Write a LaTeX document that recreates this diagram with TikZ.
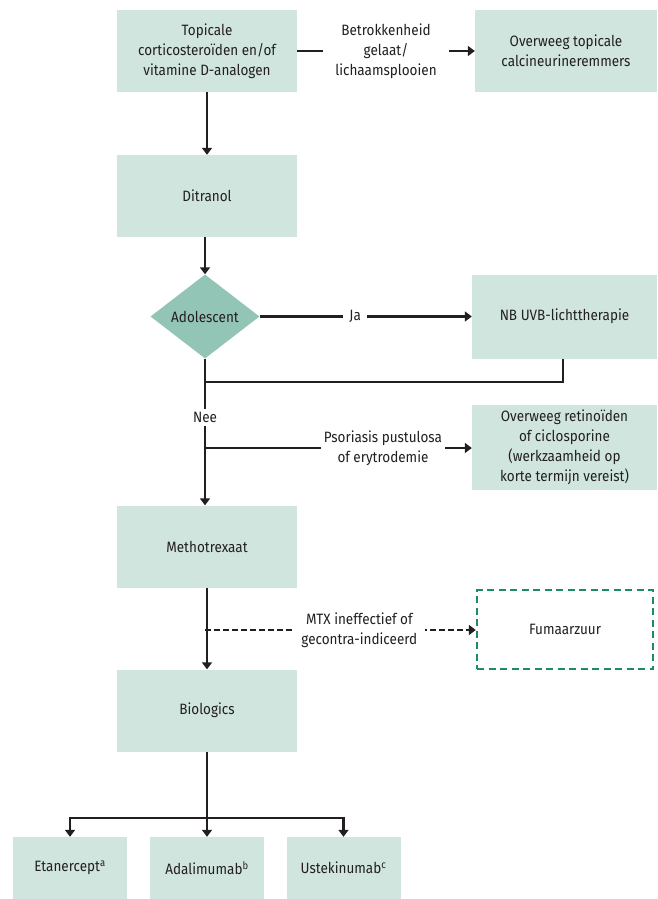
\documentclass[tikz,border=0pt]{standalone}
\usepackage{fontspec}
\setmainfont{Fira Sans}[FakeStretch=0.9]
\usetikzlibrary{shapes.geometric, arrows.meta, positioning, calc}
\definecolor{boxgreen}{HTML}{CFE5DD}
\definecolor{diagreen}{HTML}{93C5B7}
\definecolor{dashgreen}{HTML}{1F8A68}
\definecolor{inkgray}{HTML}{231F20}

\begin{document}
\begin{tikzpicture}[
    x=1pt, y=-1pt,
    font=\fontsize{15}{20}\selectfont,
    treatment/.style={
        rectangle, fill=boxgreen, text=inkgray,
        minimum width=180pt, minimum height=82pt, align=center,
        inner sep=4pt
    },
    option/.style={
        treatment, minimum width=114pt, minimum height=62pt
    },
    decision/.style={
        diamond, fill=diagreen, text=inkgray,
        minimum width=109pt, minimum height=84pt, inner sep=0pt, align=center
    },
    dashbox/.style={
        rectangle, draw=dashgreen, line width=2.4pt, dash pattern=on 7pt off 4.5pt,
        text=inkgray, minimum width=176pt, minimum height=79pt, align=center
    },
    line/.style={draw=inkgray, line width=2.2pt},
    arrow/.style={line, -{Triangle[length=7pt, width=10pt]}},
    dasharrow/.style={arrow, dash pattern=on 6pt off 3pt},
    cond/.style={fill=white, text=inkgray, align=center, inner sep=3pt}
]
\useasboundingbox (0,0) rectangle (657,899);

% ---------------------------------------------------------------------
% 1. MAIN COLUMN
% ---------------------------------------------------------------------
\node[treatment] (Topical) at (207, 51) {Topicale\\corticosteroïden en/of\\vitamine D-analogen};
\node[treatment] (Ditranol) at (207, 196) {Ditranol};
\node[decision] (Adolescent) at (205, 316.5) {Adolescent};
\node[treatment] (Metho) at (207, 546.5) {Methotrexaat};
\node[treatment] (Biologics) at (207, 710.5) {Biologics};

% ---------------------------------------------------------------------
% 2. RIGHT COLUMN
% ---------------------------------------------------------------------
\node[treatment, minimum width=182pt] (Calci) at (566, 51) {Overweeg topicale\\calcineurineremmers};
\node[treatment, minimum width=185pt, minimum height=84pt] (UVB) at (564.5, 316.5) {NB UVB-lichttherapie};
\node[treatment, minimum width=185pt, minimum height=85pt] (Retino) at (564.5, 447.5) {Overweeg retinoïden\\of ciclosporine\\(werkzaamheid op\\korte termijn vereist)};
\node[dashbox] (Fumaar) at (565, 629.5) {Fumaarzuur};

% ---------------------------------------------------------------------
% 3. BOTTOM: BIOLOGICS
% ---------------------------------------------------------------------
\node[option] (Etan) at (70, 868) {Etanercept\textsuperscript{a}};
\node[option] (Adal) at (207, 868) {Adalimumab\textsuperscript{b}};
\node[option] (Uste) at (343.5, 868) {Ustekinumab\textsuperscript{c}};

% ---------------------------------------------------------------------
% CONNECTIONS
% ---------------------------------------------------------------------
\coordinate (Merge) at (205, 382);
\coordinate (Branch1) at (205, 448);
\coordinate (Branch2) at (205, 630);
\coordinate (Bar) at (207, 818);

\draw[arrow] (Topical) -- node[cond, inner xsep=12pt] {Betrokkenheid\\gelaat/\\lichaamsplooien} (Calci);
\draw[arrow] (Topical) -- (Ditranol);
\draw[arrow] (Ditranol.south -| Adolescent) -- (Adolescent);

% Adolescent -> Ja / Nee
\draw[arrow] (Adolescent) -- node[cond, pos=0.45, inner xsep=6pt] {Ja} (UVB);
\draw[line] (UVB.south -| 563,0) |- (Merge);
\draw[arrow] (Adolescent) -- node[cond, pos=0.4] {Nee} (Adolescent |- Metho.north);
\draw[arrow] (Branch1) -- node[cond, pos=0.667] {Psoriasis pustulosa\\of erytrodemie} (Branch1 -| Retino.west);

% Methotrexaat -> Biologics / Fumaarzuur
\draw[arrow] (Metho) -- (Biologics);
\draw[dasharrow] (Branch2) -- node[cond, pos=0.57, inner xsep=8pt] {MTX ineffectief of\\gecontra-indiceerd} (Branch2 -| Fumaar.west);

% Biologics -> options
\draw[arrow] (Biologics) -- (Adal);
\draw[arrow] (Bar) -| (Etan);
\draw[arrow] (Bar) -| (Uste);

\end{tikzpicture}
\end{document}
